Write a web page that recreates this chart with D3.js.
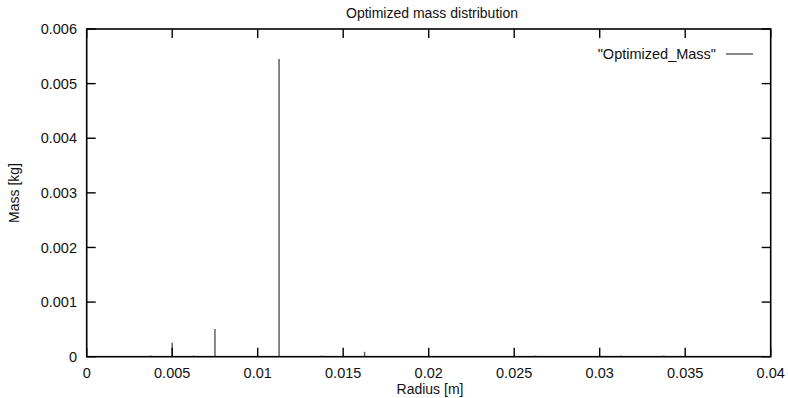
<!DOCTYPE html>
<html>
<head>
<meta charset="utf-8">
<script src="https://cdn.jsdelivr.net/npm/d3@7"></script>
<style>
  body { margin: 0; background: #fff; }
  text { font-family: "Liberation Sans", Arial, sans-serif; fill: #111; }
</style>
</head>
<body>
<svg id="chart" width="788" height="398"></svg>
<script>
// radius [m] of each impulse and its optimized mass [kg]
var radius = [0.00375, 0.005, 0.00625, 0.0075, 0.00875, 0.01125, 0.01375, 0.01625,
              0.02375, 0.02625, 0.02875, 0.03125, 0.03375];
var mass   = [0.00002, 0.000256, 0.00002, 0.000507, 0.00001, 0.00545, 0.00002, 0.00009,
              0.00001, 0.00002, 0.00001, 0.00002, 0.00002];
var xTicks = [0, 0.005, 0.01, 0.015, 0.02, 0.025, 0.03, 0.035, 0.04];
var yTicks = [0, 0.001, 0.002, 0.003, 0.004, 0.005, 0.006];

var svg = d3.select('#chart'),
    plotL = 86.7, plotR = 770.7, plotT = 29, plotB = 356.7;

var x = d3.scaleLinear().domain([0, 0.04]).range([plotL, plotR]);
var y = d3.scaleLinear().domain([0, 0.006]).range([plotB, plotT]);

var fmt = d => d === 0 ? '0' : String(+d.toFixed(4));
var tick = 9;

// impulses
svg.append('g').selectAll('line')
  .data(radius.map((r, i) => ({r: r, m: mass[i]})))
  .enter().append('line')
  .attr('x1', d => x(d.r)).attr('x2', d => x(d.r))
  .attr('y1', y(0)).attr('y2', d => y(d.m))
  .attr('stroke', '#555')
  .attr('stroke-width', 1.4);

// ticks, mirrored on all sides
var tg = svg.append('g').attr('stroke', '#000').attr('stroke-width', 1.4);
xTicks.forEach(t => {
  tg.append('line').attr('x1', x(t)).attr('x2', x(t)).attr('y1', plotB).attr('y2', plotB - tick);
  tg.append('line').attr('x1', x(t)).attr('x2', x(t)).attr('y1', plotT).attr('y2', plotT + tick);
});
yTicks.forEach(t => {
  tg.append('line').attr('y1', y(t)).attr('y2', y(t)).attr('x1', plotL).attr('x2', plotL + tick);
  tg.append('line').attr('y1', y(t)).attr('y2', y(t)).attr('x1', plotR).attr('x2', plotR - tick);
});

// border
svg.append('rect')
  .attr('x', plotL).attr('y', plotT)
  .attr('width', plotR - plotL).attr('height', plotB - plotT)
  .attr('fill', 'none').attr('stroke', '#000').attr('stroke-width', 1.6);

// tick labels
svg.append('g').selectAll('text').data(xTicks).enter().append('text')
  .attr('x', d => x(d)).attr('y', 378)
  .attr('text-anchor', 'middle')
  .style('font-size', '14.5px')
  .text(fmt);

svg.append('g').selectAll('text').data(yTicks).enter().append('text')
  .attr('x', 77).attr('y', d => y(d)).attr('dy', '0.36em')
  .attr('text-anchor', 'end')
  .style('font-size', '14.5px')
  .text(fmt);

// titles
svg.append('text').attr('x', 432).attr('y', 18)
  .attr('text-anchor', 'middle').style('font-size', '14px')
  .text('Optimized mass distribution');

svg.append('text').attr('x', 430).attr('y', 394)
  .attr('text-anchor', 'middle').style('font-size', '14px')
  .text('Radius [m]');

svg.append('text')
  .attr('transform', 'translate(19,193) rotate(-90)')
  .attr('text-anchor', 'middle').style('font-size', '14px')
  .text('Mass [kg]');

// legend
svg.append('text').attr('x', 716).attr('y', 54).attr('dy', '0.36em')
  .attr('text-anchor', 'end').style('font-size', '14.5px')
  .text('"Optimized_Mass"');
svg.append('line').attr('x1', 726).attr('x2', 753).attr('y1', 54).attr('y2', 54)
  .attr('stroke', '#555').attr('stroke-width', 1.4);
</script>
</body>
</html>
